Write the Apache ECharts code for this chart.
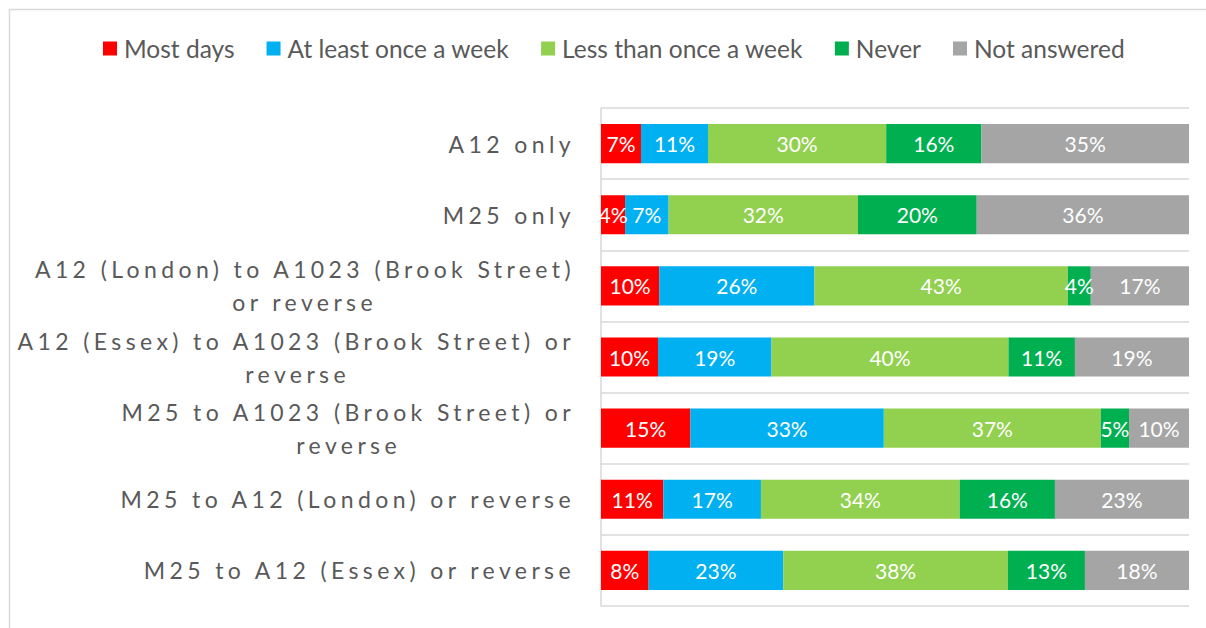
<!DOCTYPE html>
<html>
<head>
<meta charset="utf-8">
<script src="https://cdn.jsdelivr.net/npm/echarts@6/dist/echarts.min.js"></script>
<style>
html, body { margin: 0; padding: 0; background: #fff; }
#chart { width: 1206px; height: 628px; }
/* the category labels are letter-spaced in the original */
#chart text[style*="axislbl"] { letter-spacing: 4.4px; }
</style>
</head>
<body>
<div id="chart"></div>
<script>
var categories = [
  'A12 only',
  'M25 only',
  'A12 (London) to A1023 (Brook Street)\nor reverse',
  'A12 (Essex) to A1023 (Brook Street) or\nreverse',
  'M25 to A1023 (Brook Street) or\nreverse',
  'M25 to A12 (London) or reverse',
  'M25 to A12 (Essex) or reverse'
]
var seriesNames = ['Most days', 'At least once a week', 'Less than once a week', 'Never', 'Not answered']
var mostDays = [6.8, 4.1, 9.9, 9.7, 15.2, 10.6, 8.1]
var onceAWeek = [11.4, 7.4, 26.4, 19.3, 32.9, 16.6, 22.9]
var lessThanWeekly = [30.3, 32.2, 43.1, 40.3, 36.9, 33.8, 38.2]
var never = [16.2, 20.2, 3.9, 11.3, 4.8, 16.2, 13.1]
var notAnswered = [35.3, 36.1, 16.7, 19.4, 10.2, 22.8, 17.7]

var colors = ['#ff0000', '#00b0f0', '#92d050', '#00b050', '#a5a5a5']
var values = [mostDays, onceAWeek, lessThanWeekly, never, notAnswered]
// right padding of the second line of a wrapped label
var wrapPad = [0, 0, 198, 225, 174, 0, 0]

var labelFont = 'Lato, axislbl'
var chart = echarts.init(document.getElementById('chart'), null, { renderer: 'svg' })

var option = {
  animation: false,
  color: colors,
  graphic: [{
    type: 'rect',
    shape: { x: 9.5, y: 9.5, width: 1400, height: 800 },
    style: { fill: 'none', stroke: '#d9d9d9', lineWidth: 1.5 },
    silent: true
  }],
  legend: {
    left: 98,
    top: 31,
    itemWidth: 14,
    itemHeight: 14,
    itemGap: 32,
    icon: 'rect',
    textStyle: {
      color: '#595959',
      fontFamily: 'Lato',
      fontSize: 24.5,
      padding: [0, 0, 0, 2]
    },
    data: seriesNames
  },
  grid: {
    left: 601,
    right: 17,
    top: 108,
    bottom: 22,
    containLabel: false
  },
  xAxis: {
    type: 'value',
    min: 0,
    max: 100,
    show: false
  },
  yAxis: {
    type: 'category',
    inverse: true,
    data: categories,
    axisLine: { show: true, lineStyle: { color: '#d9d9d9', width: 1.5 } },
    axisTick: { show: false },
    splitLine: { show: true, lineStyle: { color: '#d9d9d9', width: 1.5 } },
    axisLabel: {
      margin: 26,
      color: '#595959',
      fontFamily: labelFont,
      fontSize: 23,
      lineHeight: 33,
      formatter: function (val, idx) {
        var lines = val.split('\n')
        if (lines.length === 1) return '{a|' + lines[0] + '}'
        return '{a|' + lines[0] + '}\n{b' + idx + '|' + lines[1] + '}'
      },
      rich: (function () {
        var r = {
          a: { fontFamily: labelFont, fontSize: 23, color: '#595959', lineHeight: 33, align: 'right' }
        }
        wrapPad.forEach(function (p, i) {
          r['b' + i] = { fontFamily: labelFont, fontSize: 23, color: '#595959', lineHeight: 33, align: 'right', padding: [0, p, 0, 0] }
        })
        return r
      })()
    }
  },
  series: seriesNames.map(function (name, i) {
    return {
      name: name,
      type: 'bar',
      stack: 'total',
      barWidth: '55%',
      data: values[i],
      label: {
        show: true,
        position: 'inside',
        color: '#fff',
        fontFamily: 'Lato',
        fontSize: 21,
        formatter: function (p) { return Math.round(p.value) + '%' }
      },
      itemStyle: { color: colors[i] }
    }
  })
}
chart.setOption(option)
</script>
</body>
</html>
